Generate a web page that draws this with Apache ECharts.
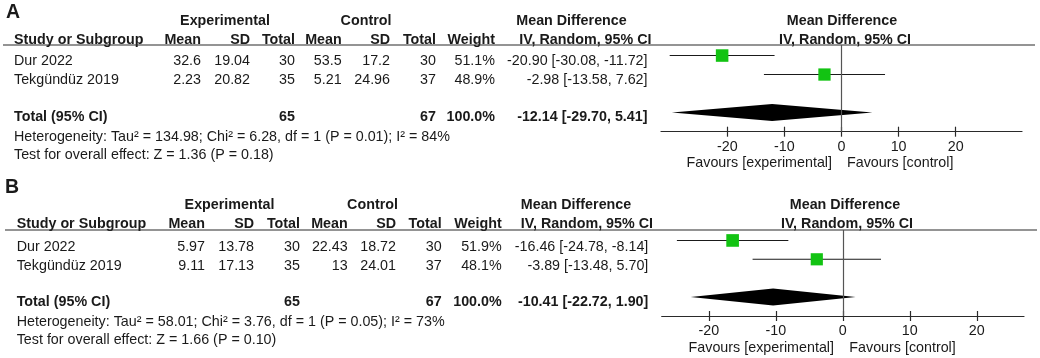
<!DOCTYPE html>
<html>
<head>
<meta charset="utf-8">
<script src="https://cdn.jsdelivr.net/npm/echarts@6/dist/echarts.min.js"></script>
<style>
  html, body { margin: 0; padding: 0; background: #fff; }
  #myChart { width: 1040px; height: 358px; }
</style>
</head>
<body>
<div id="myChart"></div>
<script>
// data
var studies = ['Dur 2022', 'Tekgündüz 2019']
var ticks = [-20, -10, 0, 10, 20]

// panel A
var aExpMean = [32.6, 2.23]
var aExpSD = [19.04, 20.82]
var aExpN = [30, 35]
var aCtlMean = [53.5, 5.21]
var aCtlSD = [17.2, 24.96]
var aCtlN = [30, 37]
var aWeight = [51.1, 48.9]
var aMD = [-20.90, -2.98]
var aLow = [-30.08, -13.58]
var aHigh = [-11.72, 7.62]
var aTotal = [65, 67, 100.0, -12.14, -29.70, 5.41]
var aHet = 'Heterogeneity: Tau² = 134.98; Chi² = 6.28, df = 1 (P = 0.01); I² = 84%'
var aTest = 'Test for overall effect: Z = 1.36 (P = 0.18)'

// panel B
var bExpMean = [5.97, 9.11]
var bExpSD = [13.78, 17.13]
var bExpN = [30, 35]
var bCtlMean = [22.43, 13]
var bCtlSD = [18.72, 24.01]
var bCtlN = [30, 37]
var bWeight = [51.9, 48.1]
var bMD = [-16.46, -3.89]
var bLow = [-24.78, -13.48]
var bHigh = [-8.14, 5.70]
var bTotal = [65, 67, 100.0, -10.41, -22.72, 1.90]
var bHet = 'Heterogeneity: Tau² = 58.01; Chi² = 3.76, df = 1 (P = 0.05); I² = 73%'
var bTest = 'Test for overall effect: Z = 1.66 (P = 0.10)'

var FONT = '"Liberation Sans", Arial, sans-serif'
var FS = 14.3
var TOTAL_ROW = 3

$ready(function() {
    _initChart()
})

function $ready(fn) {
    if (document.readyState !== 'loading') fn()
    else document.addEventListener('DOMContentLoaded', fn)
}

function txt(x, y, s, align, bold, size) {
    return {
        type: 'text', x: x, y: y, silent: true,
        style: {
            text: s, align: align, verticalAlign: 'middle', fill: '#1a1a1a',
            font: (bold ? 'bold ' : '') + (size || FS) + 'px ' + FONT
        }
    }
}

function _initChart() {
    var panels = [
        {
            tag: 'A', tagX: 6, tagY: 13, groupY: 21, headY: 40, lineY: 45, lineX: [3, 1035],
            rowY: [61, 80], totalY: 117, hetY: 137, testY: 155,
            cols: [14, 201, 250, 295, 341.7, 390, 436, 495, 647.5],
            expC: 225, ctlC: 366, mdC: 571.5, ivR: 651.5, plotMdC: 842, plotIvC: 845,
            grid: {left: 661, top: 45, width: 361, height: 86.7},
            favY: 163.3, favL: 832, favR: 847, range: 31.6,
            d: {em: aExpMean, es: aExpSD, en: aExpN, cm: aCtlMean, cs: aCtlSD, cn: aCtlN,
                w: aWeight, md: aMD, lo: aLow, hi: aHigh, tot: aTotal, het: aHet, test: aTest}
        },
        {
            tag: 'B', tagX: 5, tagY: 188, groupY: 205, headY: 224.3, lineY: 230, lineX: [5, 1037],
            rowY: [246.7, 265.7], totalY: 302.3, hetY: 321.7, testY: 340,
            cols: [16.7, 205, 254, 300, 347.7, 396, 441.7, 501.7, 648.3],
            expC: 229.5, ctlC: 372.5, mdC: 576, ivR: 653, plotMdC: 845, plotIvC: 847,
            grid: {left: 661.7, top: 230, width: 362.3, height: 86},
            favY: 348.3, favL: 834, favR: 849.3, range: 27.05,
            d: {em: bExpMean, es: bExpSD, en: bExpN, cm: bCtlMean, cs: bCtlSD, cn: bCtlN,
                w: bWeight, md: bMD, lo: bLow, hi: bHigh, tot: bTotal, het: bHet, test: bTest}
        }
    ]

    var graphic = [], grid = [], xAxis = [], yAxis = [], series = []

    panels.forEach(function(p, gi) {
        var c = p.cols, d = p.d
        graphic.push(txt(p.tagX, p.tagY, p.tag, 'left', true, 19.5))
        graphic.push(txt(p.expC, p.groupY, 'Experimental', 'center', true))
        graphic.push(txt(p.ctlC, p.groupY, 'Control', 'center', true))
        graphic.push(txt(p.mdC, p.groupY, 'Mean Difference', 'center', true))
        graphic.push(txt(p.plotMdC, p.groupY, 'Mean Difference', 'center', true))
        // header row
        var heads = ['Mean', 'SD', 'Total', 'Mean', 'SD', 'Total', 'Weight']
        graphic.push(txt(c[0], p.headY, 'Study or Subgroup', 'left', true))
        heads.forEach(function(h, i) {
            graphic.push(txt(c[i + 1], p.headY, h, 'right', true))
        })
        graphic.push(txt(p.ivR, p.headY, 'IV, Random, 95% CI', 'right', true))
        graphic.push(txt(p.plotIvC, p.headY, 'IV, Random, 95% CI', 'center', true))
        graphic.push({
            type: 'line', silent: true,
            shape: {x1: p.lineX[0], y1: p.lineY, x2: p.lineX[1], y2: p.lineY},
            style: {stroke: '#2a2a2a', lineWidth: 1.2}
        })
        // study rows
        studies.forEach(function(s, i) {
            var y = p.rowY[i]
            var vals = [d.em[i], d.es[i], d.en[i], d.cm[i], d.cs[i], d.cn[i], d.w[i].toFixed(1) + '%']
            graphic.push(txt(c[0], y, s, 'left'))
            vals.forEach(function(v, k) {
                graphic.push(txt(c[k + 1], y, String(v), 'right'))
            })
            graphic.push(txt(c[8], y, d.md[i].toFixed(2) + ' [' + d.lo[i].toFixed(2) + ', ' + d.hi[i].toFixed(2) + ']', 'right'))
        })
        // total row
        var t = d.tot
        graphic.push(txt(c[0], p.totalY, 'Total (95% CI)', 'left', true))
        graphic.push(txt(c[3], p.totalY, String(t[0]), 'right', true))
        graphic.push(txt(c[6], p.totalY, String(t[1]), 'right', true))
        graphic.push(txt(c[7], p.totalY, t[2].toFixed(1) + '%', 'right', true))
        graphic.push(txt(c[8], p.totalY, t[3].toFixed(2) + ' [' + t[4].toFixed(2) + ', ' + t[5].toFixed(2) + ']', 'right', true))
        graphic.push(txt(c[0], p.hetY, d.het, 'left'))
        graphic.push(txt(c[0], p.testY, d.test, 'left'))
        graphic.push(txt(p.favL, p.favY, 'Favours [experimental]', 'right'))
        graphic.push(txt(p.favR, p.favY, 'Favours [control]', 'left'))

        // plot
        grid.push({left: p.grid.left, top: p.grid.top, width: p.grid.width, height: p.grid.height,
                   containLabel: false, outerBoundsMode: 'none'})
        xAxis.push({
            type: 'value', gridIndex: gi, min: -p.range, max: p.range, position: 'bottom',
            axisLine: {show: true, onZero: false, lineStyle: {color: '#2a2a2a', width: 1.2}},
            axisTick: {show: true, length: 5, customValues: ticks, lineStyle: {color: '#2a2a2a', width: 1.2}},
            axisLabel: {show: true, customValues: ticks, margin: 8, fontSize: FS, fontFamily: FONT, color: '#1a1a1a'},
            splitLine: {show: false}
        })
        xAxis.push({
            type: 'value', gridIndex: gi, min: -p.range, max: p.range, position: 'bottom',
            axisLine: {show: false, onZero: false},
            axisTick: {show: true, inside: true, length: 5, customValues: ticks, lineStyle: {color: '#2a2a2a', width: 1.2}},
            axisLabel: {show: false},
            splitLine: {show: false}
        })
        yAxis.push({type: 'value', gridIndex: gi, inverse: true, min: -0.555, max: 4.01, show: false, splitLine: {show: false}})

        var xi = gi * 2
        series.push({
            type: 'custom', xAxisIndex: xi, yAxisIndex: gi, silent: true, z: 2,
            data: studies.map(function(s, i) { return [d.lo[i], d.hi[i], i] }),
            renderItem: function(params, api) {
                var a = api.coord([api.value(0), api.value(2)])
                var b = api.coord([api.value(1), api.value(2)])
                return {type: 'line', shape: {x1: a[0], y1: a[1], x2: b[0], y2: b[1]},
                        style: {stroke: '#1a1a1a', lineWidth: 1.1}}
            }
        })
        series.push({
            type: 'scatter', xAxisIndex: xi, yAxisIndex: gi, silent: true, z: 3,
            symbol: 'rect',
            symbolSize: function(v) { return 12.4 * Math.sqrt(v[2] / 50) },
            itemStyle: {color: '#12c312', opacity: 1},
            data: studies.map(function(s, i) { return [d.md[i], i, d.w[i]] }),
            markLine: {
                silent: true, symbol: 'none', animation: false,
                label: {show: false},
                lineStyle: {color: '#555', width: 1.2, type: 'solid'},
                data: [{xAxis: 0}]
            }
        })
        series.push({
            type: 'custom', xAxisIndex: xi, yAxisIndex: gi, silent: true, z: 4,
            data: [[t[4], t[3], t[5], TOTAL_ROW]],
            renderItem: function(params, api) {
                var y = api.value(3)
                var l = api.coord([api.value(0), y])
                var m = api.coord([api.value(1), y])
                var r = api.coord([api.value(2), y])
                return {type: 'polygon',
                        shape: {points: [l, [m[0], m[1] - 8.5], r, [m[0], m[1] + 8.5]]},
                        style: {fill: '#000'}}
            }
        })
    })

    var myChart = echarts.init(document.getElementById('myChart'))
    myChart.setOption({
        animation: false,
        backgroundColor: '#fff',
        textStyle: {fontFamily: FONT},
        grid: grid,
        xAxis: xAxis,
        yAxis: yAxis,
        series: series,
        graphic: graphic
    })
    window.addEventListener('resize', function () {
        myChart.resize()
    })
}
</script>
</body>
</html>
